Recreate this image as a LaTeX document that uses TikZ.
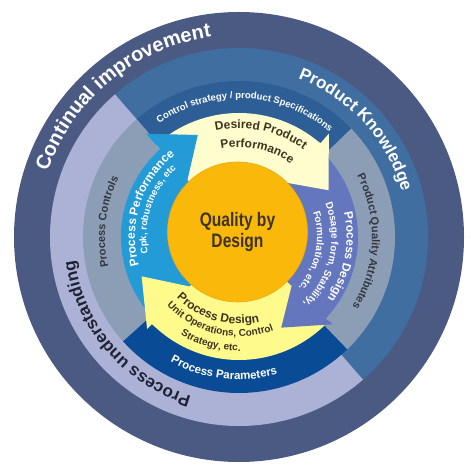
\documentclass[tikz,border=0pt]{standalone}
\usepackage{fontspec}
\setmainfont{Liberation Sans}
\newfontfamily\narrowfont[FakeStretch=0.8]{Liberation Sans}
\usetikzlibrary{decorations.text}
\definecolor{outerring}{HTML}{4B5A82}
\definecolor{knowring}{HTML}{406EA0}
\definecolor{underring}{HTML}{ACB2D6}
\definecolor{greyband}{HTML}{8C9EB6}
\definecolor{topband}{HTML}{2D5F96}
\definecolor{bottomband}{HTML}{0A4B96}
\definecolor{perfarrow}{HTML}{239BD7}
\definecolor{dosearrow}{HTML}{6476BE}
\definecolor{desirearrow}{HTML}{FFFCCD}
\definecolor{unitarrow}{HTML}{FFFA8C}
\definecolor{corefill}{HTML}{FAB90A}
\definecolor{corerim}{HTML}{EFA908}
\definecolor{darktext}{HTML}{3D341E}
\definecolor{greytext}{HTML}{33363D}
\definecolor{undertext}{HTML}{1E2233}
\tikzset{core/.style={circle,minimum size=140pt,inner sep=0pt,fill=corefill,draw=corerim,line width=0.6pt,
		align=center,text=darktext,font=\narrowfont\bfseries\fontsize{19.5}{21}\selectfont}}

% text on a clockwise arc (letters point outward): centre angle, half span, radius, size, colour, text
\newcommand{\cwlabel}[6]{\path[decorate,decoration={text along path,text align=center,text color=#5,
		text={|\fontsize{#4}{#4}\selectfont\bfseries|#6}}] (#1+#2:#3pt) arc[start angle=#1+#2,end angle=#1-#2,radius=#3pt];}
% same, counter-clockwise (letters point inward)
\newcommand{\ccwlabel}[6]{\path[decorate,decoration={text along path,text align=center,text color=#5,
		text={|\fontsize{#4}{#4}\selectfont\bfseries|#6}}] (#1-#2:#3pt) arc[start angle=#1-#2,end angle=#1+#2,radius=#3pt];}
% arrow body: colour, tail angle, wing angle, inner radius, outer radius
\newcommand{\arrowbody}[5]{\fill[#1] (#2:#5pt) arc[start angle=#2,end angle=#3,radius=#5pt] -- (#3:#4pt) arc[start angle=#3,end angle=#2,radius=#4pt] -- cycle;}
% arrow head: colour, wing angle, body radius, outer wing, inner wing, tip angle, tip radius
\newcommand{\arrowhead}[7]{\fill[#1] (#2+1.5:#3pt) -- (#2:#3pt) -- (#2:#4pt) -- (#6:#7pt) -- (#2:#5pt) -- (#2+1.5:#5pt) -- cycle;}

\begin{document}
\begin{tikzpicture}
	\fill[white] (-239pt,-233pt) rectangle (231pt,237pt);
	\useasboundingbox (-239pt,-233pt) rectangle (231pt,237pt);
	
	% rings
	\fill[outerring] (0,0) circle[radius=225pt];
	\fill[knowring] (-49:189pt) arc[start angle=-49,end angle=131,radius=189pt] -- cycle;
	\fill[underring] (131:189pt) arc[start angle=131,end angle=311,radius=189pt] -- cycle;
	\fill[topband] (0,0) -- (44:156pt) arc[start angle=44,end angle=131,radius=156pt] -- cycle;
	\fill[greyband] (0,0) -- (131:156pt) arc[start angle=131,end angle=222,radius=156pt] -- cycle;
	\fill[bottomband] (0,0) -- (222:156pt) arc[start angle=222,end angle=314,radius=156pt] -- cycle;
	\fill[greyband] (0,0) -- (314:156pt) arc[start angle=314,end angle=404,radius=156pt] -- cycle;
	
	% cycle arrows
	\arrowbody{perfarrow}{225}{132}{55}{118}
	\arrowbody{desirearrow}{132}{49}{55}{124}
	\arrowbody{dosearrow}{49}{-43}{55}{119}
	\arrowbody{unitarrow}{-43}{-135}{55}{123}
	\arrowhead{perfarrow}{132}{118}{139}{77}{112}{110}
	\arrowhead{desirearrow}{49}{124}{137}{72}{27.6}{101}
	\arrowhead{dosearrow}{-43}{119}{128}{72}{-65}{100}
	\arrowhead{unitarrow}{-135}{123}{130}{70}{-158}{105}
	
	\node[core] (qbd) at (-1.5pt,5pt) {Quality by\\Design};
	
	% ring labels
	\cwlabel{129.5}{70}{202}{20}{white}{Continual improvement}
	\cwlabel{42.5}{60}{169}{17}{white}{Product Knowledge}
	\cwlabel{220.7}{60}{166}{17}{undertext}{Process understanding}
	\cwlabel{87.2}{60}{138.5}{9.5}{white}{Control strategy / product Specifications}
	\cwlabel{-2}{60}{133}{11}{greytext}{Product Quality Attributes}
	\cwlabel{173.3}{50}{134}{11}{greytext}{Process Controls}
	\ccwlabel{263.5}{50}{142.5}{11.5}{white}{Process Parameters}
	
	% arrow labels
	\cwlabel{78}{60}{108.7}{12}{darktext}{Desired Product}
	\cwlabel{78}{60}{89.7}{12}{darktext}{Performance}
	\cwlabel{162}{60}{104}{12}{white}{Process Performance}
	\cwlabel{161.5}{60}{92.6}{9.5}{white}{Cpk, robustness, etc}
	\cwlabel{-11}{50}{107.7}{12}{white}{Process Design}
	\cwlabel{-12.5}{60}{92.5}{10}{white}{Dosage form, Stability,}
	\cwlabel{-11}{60}{78}{10}{white}{Formulation, etc.}
	\ccwlabel{254}{50}{87}{12}{darktext}{Process Design}
	\ccwlabel{257}{50}{99.5}{10}{darktext}{Unit Operations, Control}
	\ccwlabel{255}{50}{114}{10}{darktext}{Strategy, etc.}
\end{tikzpicture}
\end{document}
